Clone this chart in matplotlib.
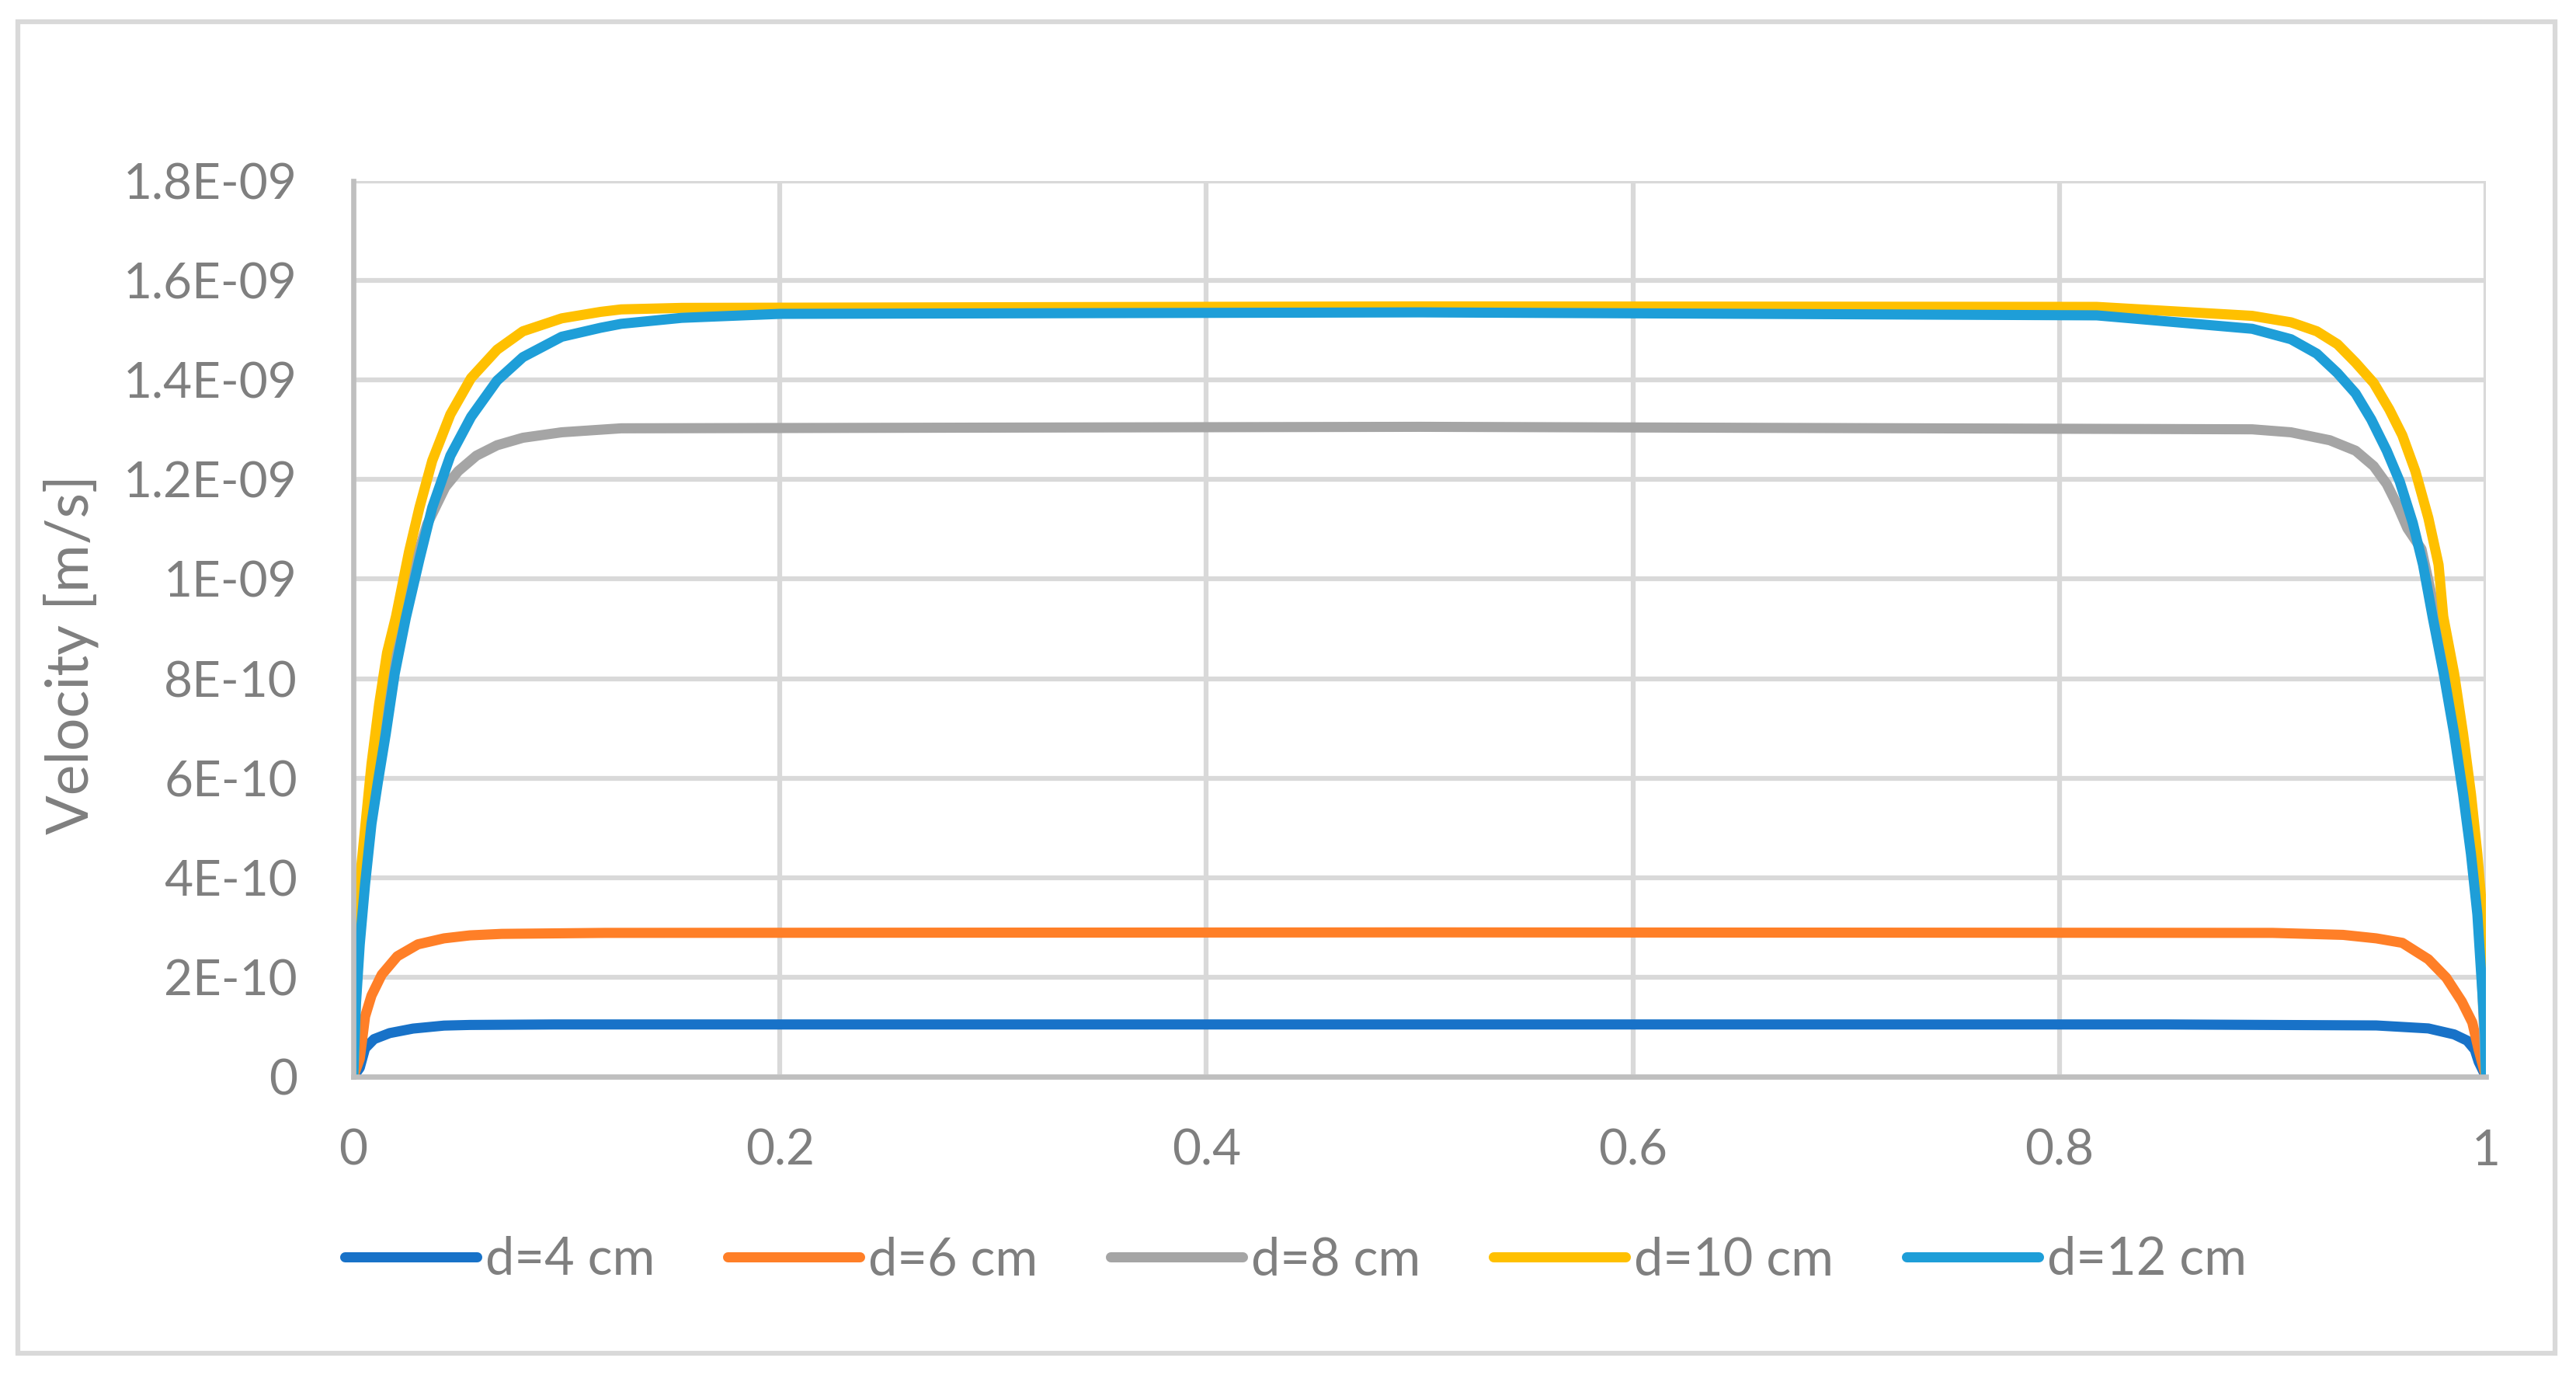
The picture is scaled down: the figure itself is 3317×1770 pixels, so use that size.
import matplotlib
matplotlib.use("Agg")
import matplotlib.pyplot as plt
from matplotlib.patches import Rectangle

plt.rcParams["font.family"] = ["Lato", "DejaVu Sans"]

# readings, velocity in units of 1e-9 m/s
x_d4 = [0, 0.003, 0.0055, 0.0097, 0.017, 0.028, 0.0425, 0.0546, 0.094, 0.15,
        0.5, 0.85, 0.9486, 0.973, 0.9851, 0.9912, 0.9948, 0.9966, 1.0]
v_d4 = [0, 0.018, 0.057, 0.0755, 0.0876, 0.0967, 0.1027, 0.104, 0.105, 0.105,
        0.105, 0.105, 0.103, 0.097, 0.085, 0.0725, 0.054, 0.030, 0]

x_d6 = [0, 0.003, 0.0055, 0.0085, 0.0133, 0.0206, 0.0303, 0.0425, 0.0546, 0.0695,
        0.118, 0.5, 0.9, 0.933, 0.9486, 0.9608, 0.973, 0.9814, 0.9887, 0.9936,
        0.9966, 1.0]
v_d6 = [0, 0.036, 0.121, 0.163, 0.205, 0.242, 0.266, 0.278, 0.284, 0.287,
        0.289, 0.29, 0.289, 0.285, 0.278, 0.269, 0.236, 0.199, 0.151, 0.109,
        0.054, 0]

x_d8 = [0, 0.0012, 0.003, 0.0055, 0.0085, 0.0121, 0.0158, 0.0200, 0.0249, 0.031,
        0.0346, 0.0431, 0.0492, 0.0577, 0.0674, 0.0795, 0.0977, 0.1256, 0.5, 0.8904,
        0.9086, 0.9268, 0.9389, 0.9474, 0.9535, 0.9584, 0.9632, 0.9698, 0.9754, 0.9802,
        0.9851, 0.9893, 0.993, 0.996, 0.9978, 1.0]
v_d8 = [0, 0.16, 0.29, 0.42, 0.54, 0.66, 0.76, 0.86, 0.96, 1.06,
        1.11, 1.185, 1.217, 1.248, 1.269, 1.284, 1.295, 1.303, 1.306, 1.301,
        1.295, 1.279, 1.258, 1.227, 1.191, 1.149, 1.102, 1.06, 0.95, 0.84,
        0.72, 0.60, 0.48, 0.35, 0.23, 0]

x_d10 = [0, 0.0018, 0.0036, 0.006, 0.0085, 0.0121, 0.0158, 0.020, 0.0261, 0.031,
         0.037, 0.0455, 0.0552, 0.0674, 0.0795, 0.0977, 0.1159, 0.1256, 0.154, 0.5,
         0.8175, 0.8904, 0.9086, 0.9207, 0.9304, 0.9389, 0.9474, 0.9547, 0.9608, 0.9669,
         0.973, 0.9778, 0.980, 0.9851, 0.9893, 0.993, 0.996, 0.9978, 0.9996, 1.0]
v_d10 = [0, 0.266, 0.417, 0.52, 0.628, 0.749, 0.852, 0.925, 1.055, 1.144,
         1.238, 1.331, 1.404, 1.461, 1.498, 1.524, 1.537, 1.542, 1.545, 1.548,
         1.547, 1.529, 1.516, 1.498, 1.472, 1.435, 1.394, 1.341, 1.289, 1.217,
         1.123, 1.029, 0.925, 0.81, 0.689, 0.568, 0.447, 0.356, 0.205, 0]

x_d12 = [0, 0.0012, 0.003, 0.0055, 0.0085, 0.0115, 0.0152, 0.0194, 0.0246, 0.031,
         0.037, 0.0455, 0.0552, 0.0674, 0.0795, 0.0977, 0.1159, 0.1256, 0.154, 0.2,
         0.5, 0.8175, 0.8904, 0.9086, 0.9207, 0.9304, 0.9389, 0.9462, 0.9535, 0.9596,
         0.9657, 0.9705, 0.9751, 0.9802, 0.9851, 0.9893, 0.993, 0.996, 0.9978, 0.9996,
         1.0]
v_d12 = [0, 0.145, 0.266, 0.387, 0.508, 0.592, 0.689, 0.81, 0.922, 1.04,
         1.144, 1.248, 1.326, 1.399, 1.446, 1.487, 1.505, 1.513, 1.525, 1.533,
         1.536, 1.530, 1.503, 1.482, 1.453, 1.414, 1.373, 1.321, 1.258, 1.196,
         1.113, 1.029, 0.922, 0.81, 0.689, 0.568, 0.447, 0.326, 0.205, 0.085,
         0]

series_names = ["d=4 cm", "d=6 cm", "d=8 cm", "d=10 cm", "d=12 cm"]
series_colors = ["#1872c8", "#ff7f27", "#a5a5a5", "#ffc000", "#1e9ed8"]

y_ticks = [0, 0.2, 0.4, 0.6, 0.8, 1.0, 1.2, 1.4, 1.6, 1.8]
y_tick_labels = ["0", "2E-10", "4E-10", "6E-10", "8E-10", "1E-09",
                 "1.2E-09", "1.4E-09", "1.6E-09", "1.8E-09"]
x_ticks = [0, 0.2, 0.4, 0.6, 0.8, 1.0]
x_tick_labels = ["0", "0.2", "0.4", "0.6", "0.8", "1"]

TEXT = "#7f7f7f"
W, H = 3317, 1770

fig = plt.figure(figsize=(W / 100, H / 100), dpi=100)
ax = fig.add_axes([455 / W, 1 - 1386 / H, (3201 - 455) / W, (1386 - 233) / H])

xs = [x_d4, x_d6, x_d8, x_d10, x_d12]
vs = [v_d4, v_d6, v_d8, v_d10, v_d12]
for x, v, name, color in zip(xs, vs, series_names, series_colors):
    ax.plot(x, [val * 1e-9 for val in v], color=color, lw=9.4, label=name,
            solid_capstyle="round", solid_joinstyle="round")

ax.set_xlim(0, 1)
ax.set_ylim(0, 1.8e-9)
ax.set_xticks(x_ticks)
ax.set_xticklabels(x_tick_labels)
ax.set_yticks([t * 1e-9 for t in y_ticks])
ax.set_yticklabels(y_tick_labels)
ax.tick_params(length=0, labelsize=46, colors=TEXT)
ax.tick_params(axis="y", pad=52)
ax.tick_params(axis="x", pad=48)

ax.grid(True, color="#d9d9d9", lw=4.5)
ax.set_axisbelow(True)
for side in ("top", "right"):
    ax.spines[side].set_visible(False)
for side in ("left", "bottom"):
    ax.spines[side].set_color("#bfbfbf")
    ax.spines[side].set_linewidth(4.8)

fig.text(91 / W, 1 - 842 / H, "Velocity [m/s]", rotation=90, ha="center",
         va="center", fontsize=54, color=TEXT)

leg = fig.legend(loc="center", bbox_to_anchor=(0.503, 1 - 1622 / H), ncol=5,
                 frameon=False, fontsize=48, handlelength=2.55,
                 handletextpad=0.17, columnspacing=1.4)
for text in leg.get_texts():
    text.set_color(TEXT)
for line in leg.get_lines():
    line.set_linewidth(9.4)

# chart area border
fig.patches.append(Rectangle((23 / W, 1 - 1742 / H), (3290 - 23) / W,
                             (1742 - 28) / H, transform=fig.transFigure,
                             fill=False, edgecolor="#d9d9d9", lw=4.5))

fig.savefig("out.png", dpi=100)
